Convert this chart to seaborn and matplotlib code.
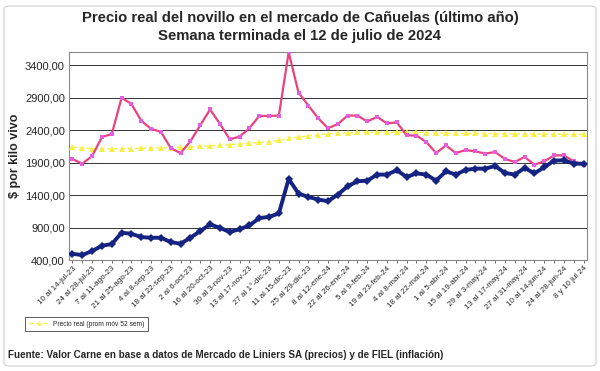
import matplotlib
matplotlib.use("Agg")
import matplotlib.pyplot as plt
import seaborn as sns
import pandas as pd
import numpy as np
from matplotlib.patches import FancyBboxPatch
from matplotlib.lines import Line2D

week_labels = [
    "10 al 14-jul-23", "24 al 28-jul-23", "7 al 11-ago-23", "21 al 25-ago-23",
    "4 al 8-sep-23", "18 al 22-sep-23", "2 al 6-oct-23", "16 al 20-oct-23",
    "30 al 3-nov-23", "13 al 17-nov-23", "27 al 1°-dic-23", "11 al 15-dic-23",
    "25 al 29-dic-23", "8 al 12-ene-24", "22 al 26-ene-24", "5 al 9-feb-24",
    "19 al 23-feb-24", "4 al 8-mar-24", "18 al 22-mar-24", "1 al 5-abr-24",
    "15 al 19-abr-24", "29 al 3-may-24", "13 al 17-may-24", "27 al 31-may-24",
    "10 al 14-jun-24", "24 al 28-jun-24", "8 y 10 jul 24",
]

precio_real = [
    1955, 1885, 2000, 2295, 2340, 2900, 2805, 2545, 2420, 2375,
    2125, 2045, 2230, 2475, 2720, 2500, 2260, 2300, 2430, 2620,
    2620, 2625, 3600, 2980, 2780, 2585, 2430, 2495, 2625, 2625,
    2535, 2605, 2505, 2520, 2320, 2318, 2217, 2048, 2165, 2048,
    2094, 2074, 2040, 2064, 1956, 1910, 1987, 1870, 1920, 2012,
    2012, 1920, 1870,
]

precio_nominal = [
    495, 477, 538, 620, 645, 820, 804, 753, 743, 743,
    676, 651, 743, 845, 948, 896, 830, 875, 932, 1045,
    1065, 1117, 1649, 1424, 1372, 1332, 1306, 1408, 1536, 1613,
    1623, 1716, 1716, 1782, 1680, 1735, 1716, 1623, 1767, 1716,
    1788, 1808, 1808, 1849, 1741, 1716, 1818, 1736, 1828, 1931,
    1936, 1884, 1884,
]

prom_movil = [
    2140, 2125, 2115, 2110, 2110, 2115, 2118, 2122, 2125, 2128,
    2132, 2135, 2140, 2150, 2160, 2168, 2178, 2187, 2200, 2212,
    2222, 2243, 2274, 2294, 2315, 2330, 2345, 2350, 2356, 2366,
    2368, 2368, 2368, 2368, 2368, 2370, 2362, 2356, 2354, 2352,
    2350, 2350, 2348, 2347, 2346, 2345, 2344, 2342, 2340, 2339,
    2338, 2336, 2335,
]

idx = list(range(len(precio_real)))
df = pd.DataFrame({"semana": idx, "real": precio_real,
                   "nominal": precio_nominal, "movil": prom_movil})

sns.set_theme(style="white")
plt.rcParams["font.family"] = ["Liberation Sans", "DejaVu Sans"]

fig = plt.figure(figsize=(6.0, 3.71), dpi=100)
ax = fig.add_axes([69/600, 1-260/371, (587-69)/600, (260-52)/371])

# outer chart border
fig.patches.append(FancyBboxPatch((4/600, 5/371), 592/600, 360/371,
                                  boxstyle="round,pad=0,rounding_size=0.008",
                                  transform=fig.transFigure, fill=False,
                                  edgecolor="#d0d0d0", linewidth=0.8))

sns.lineplot(data=df, x="semana", y="movil", ax=ax, color="#f6f046",
             linewidth=1.0, linestyle=(0, (3, 2)), marker="^", markersize=4,
             markeredgewidth=0, markerfacecolor="#f6f046", zorder=3)
sns.lineplot(data=df, x="semana", y="real", ax=ax, color="#e8427f",
             linewidth=1.6, marker="s", markersize=3.2, markeredgewidth=0,
             markerfacecolor="#e35fe0", zorder=4)
sns.lineplot(data=df, x="semana", y="nominal", ax=ax, color="#152382",
             linewidth=2.8, marker="D", markersize=4.5, markeredgewidth=0,
             markerfacecolor="#152382", zorder=5)

ax.set_xlim(-0.35, 52.35)
ax.set_ylim(400, 3605)
yt = [400, 900, 1400, 1900, 2400, 2900, 3400]
ax.set_yticks(yt)
ax.set_yticklabels([f"{v},00" for v in yt], fontsize=8)
ax.yaxis.grid(True, color="#333333", linewidth=0.7)
ax.set_axisbelow(True)

ax.set_xticks(idx, minor=True)
ax.set_xticks(idx[::2])
ax.set_xticklabels(week_labels, rotation=45, ha="right",
                   rotation_mode="anchor", fontsize=5.8)
ax.tick_params(axis="x", which="both", direction="out", length=2.5,
               width=0.6, color="#555555", bottom=True, pad=1)
ax.tick_params(axis="y", length=0, pad=3)
ax.set_xlabel("")
ax.set_ylabel("$ por kilo vivo", fontsize=9, fontweight="bold", labelpad=3)
for s in ax.spines.values():
    s.set_color("#8a8a8a")
    s.set_linewidth(0.8)

fig.text(0.5, 1-18/371, "Precio real del novillo en el mercado de Cañuelas (último año)",
         ha="center", va="center", fontsize=10.7, fontweight="bold")
fig.text(0.5, 1-36/371, "Semana terminada el 12 de julio de 2024",
         ha="center", va="center", fontsize=10.7, fontweight="bold")

handle = Line2D([], [], color="#f6f046", linewidth=1.0, linestyle=(0, (3, 2)),
                marker="^", markersize=3, markeredgewidth=0)
leg = fig.legend([handle], ["Precio real (prom móv 52 sem)"],
                 loc="center left", bbox_to_anchor=(22/600, 1-324/371),
                 fontsize=4.8, frameon=True, fancybox=False,
                 handlelength=3.2, borderpad=0.5, handletextpad=0.5)
leg.get_frame().set_edgecolor("#333333")
leg.get_frame().set_linewidth(0.7)

fig.text(8/600, 1-355/371,
         "Fuente: Valor Carne en base a datos de Mercado de Liniers SA (precios) y de FIEL (inflación)",
         ha="left", va="center", fontsize=7.1, fontweight="bold")

fig.savefig("out.png", dpi=100)
